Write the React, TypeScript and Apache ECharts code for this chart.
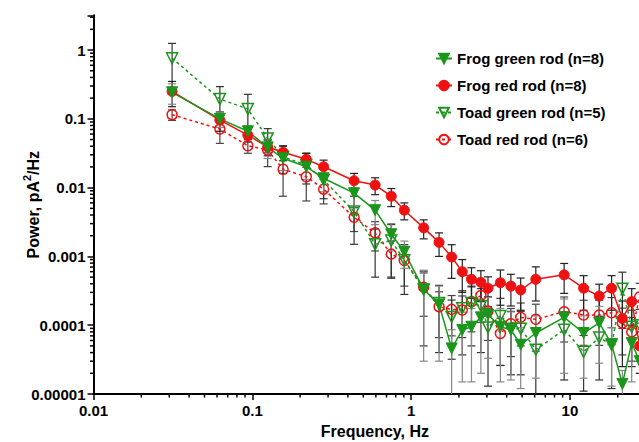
import React, { useEffect, useRef } from "react";
import * as echarts from "echarts";

const freqs = [0.03125, 0.0625, 0.09375, 0.125, 0.15625, 0.21875, 0.28125, 0.4375, 0.59375, 0.75, 0.90625, 1.2, 1.5, 1.8, 2.1, 2.4, 2.75, 3.05, 3.65, 4.25, 4.9, 6.1, 9.2, 12.2, 15.3, 18.3, 21.4, 24.5, 27.5];

const frogGreen = [0.243, 0.1, 0.066, 0.0385, 0.0267, 0.0201, 0.0137, 0.0083, 0.0047, 0.0021, 0.00117, 0.00033, 0.0002, 0.000046, 0.000085, 0.000095, 0.00013, 0.000143, 0.000095, 0.000086, 0.000052, 0.000077, 0.00013, 0.000077, 0.000108, 0.000053, 0.000014, 0.000055, 0.00003];
const frogGreenErr = [0.08, 0.025, 0.012, 0.012, 0.009, 0.007, 0.005, 0.004, 0.0018, 0.0009, 0.0005, 0.0003, 0.00017, 0.00004, 0.00007, 0.00008, 0.00011, 0.00011, 0.00008, 0.00007, 0.00004, 0.00006, 0.00011, 0.00006, 0.00008, 0.00004, 0.000008, 0.00004, 0.00002];

const frogRed = [0.25, 0.096, 0.058, 0.039, 0.0326, 0.0258, 0.0201, 0.0126, 0.0109, 0.0075, 0.0047, 0.0026, 0.0016, 0.00098, 0.0006, 0.000465, 0.00042, 0.000345, 0.000415, 0.00037, 0.000325, 0.000465, 0.00054, 0.000345, 0.000265, 0.000345, 0.000125, 0.00022, 0.00005];
const frogRedErr = [0.1, 0.03, 0.012, 0.01, 0.008, 0.006, 0.005, 0.0035, 0.003, 0.0022, 0.0013, 0.0008, 0.0006, 0.0005, 0.0003, 0.00022, 0.0002, 0.00016, 0.00022, 0.00018, 0.00016, 0.00024, 0.00025, 0.00018, 0.00013, 0.00018, 0.0001, 0.00012, 0.00003];

const toadGreen = [0.76, 0.194, 0.139, 0.052, 0.028, 0.0213, 0.0129, 0.0045, 0.0015, 0.0017, 0.00088, 0.00033, 0.00021, 0.000132, 0.000177, 0.00021, 0.00019, 0.000093, 0.000136, 0.000089, 0.000089, 0.000044, 0.000086, 0.000041, 0.000066, 0.000052, 0.00034, 0.000095, 0.0001];
const toadGreenErr = [0.49, 0.1, 0.088, 0.02, 0.012, 0.01, 0.006, 0.003, 0.001, 0.0012, 0.0006, 0.00028, 0.00017, 0.0001, 0.00014, 0.00016, 0.00015, 0.00008, 0.00011, 0.00007, 0.00007, 0.00004, 0.00007, 0.00003, 0.00005, 0.00004, 0.00025, 0.00007, 0.00007];

const toadRed = [0.115, 0.071, 0.0406, 0.0352, 0.0185, 0.0144, 0.0095, 0.0037, 0.0022, 0.00108, 0.00087, 0.000355, 0.000186, 0.00017, 0.000166, 0.00022, 0.00027, 0.00016, 0.000076, 0.000105, 0.00013, 0.000122, 0.000157, 0.000141, 0.000141, 0.000152, 0.000107, 0.00008, 0.000257];
const toadRedErr = [0.02, 0.027, 0.009, 0.015, 0.011, 0.008, 0.0037, 0.0014, 0.001, 0.0006, 0.0005, 0.00022, 0.00012, 0.0001, 0.0001, 0.00014, 0.00016, 0.0001, 0.00005, 0.00007, 0.00008, 0.00008, 0.0001, 0.00009, 0.00009, 0.0001, 0.00007, 0.00005, 0.00015];

const seriesNames = ["Frog green rod (n=8)", "Frog red rod (n=8)", "Toad green rod (n=5)", "Toad red rod (n=6)"];

const xMin = 0.01;
const xMax = 35;
const yMin = 0.00001;
const yMax = 3.2;

const xMinorTicks = [0.02, 0.03, 0.04, 0.05, 0.06, 0.07, 0.08, 0.09, 0.2, 0.3, 0.4, 0.5, 0.6, 0.7, 0.8, 0.9, 2, 3, 4, 5, 6, 7, 8, 9, 20, 30];
const yMinorTicks = [0.00002, 0.00003, 0.00004, 0.00005, 0.00006, 0.00007, 0.00008, 0.00009, 0.0002, 0.0003, 0.0004, 0.0005, 0.0006, 0.0007, 0.0008, 0.0009, 0.002, 0.003, 0.004, 0.005, 0.006, 0.007, 0.008, 0.009, 0.02, 0.03, 0.04, 0.05, 0.06, 0.07, 0.08, 0.09, 0.2, 0.3, 0.4, 0.5, 0.6, 0.7, 0.8, 0.9, 2, 3];

const GREEN = "#1a961a";
const RED = "#ee1111";
const FONT = "'Liberation Sans', Arial, sans-serif";

function fmtPow(v: number): string {
  const l = Math.log10(v);
  const k = Math.round(l);
  if (Math.abs(l - k) > 1e-6) return "";
  return k >= 0 ? String(Math.pow(10, k)) : "0." + "0".repeat(-k - 1) + "1";
}

function errorSeries(vals: number[], errs: number[], color: string, z: number) {
  const data = freqs.map((f, i) => {
    const lo = vals[i] - errs[i];
    return [f, lo > yMin ? lo : yMin * 0.5, vals[i] + errs[i]];
  });
  return {
    type: "custom",
    silent: true,
    z,
    data,
    encode: { x: 0, y: [1, 2] },
    renderItem: (params: any, api: any) => {
      const x = api.value(0);
      const lo = api.value(1);
      const hi = api.value(2);
      const pHi = api.coord([x, hi]);
      const loClipped = lo < yMin;
      const pLo = api.coord([x, loClipped ? yMin : lo]);
      const style = { stroke: color, lineWidth: 1.2 };
      const children: any[] = [
        { type: "line", shape: { x1: pHi[0], y1: pHi[1], x2: pLo[0], y2: pLo[1] }, style },
        { type: "line", shape: { x1: pHi[0] - 4, y1: pHi[1], x2: pHi[0] + 4, y2: pHi[1] }, style },
      ];
      if (!loClipped) {
        children.push({ type: "line", shape: { x1: pLo[0] - 4, y1: pLo[1], x2: pLo[0] + 4, y2: pLo[1] }, style });
      }
      return { type: "group", children };
    },
  };
}

export default function App() {
  const ref = useRef<HTMLDivElement>(null);
  useEffect(() => {
    const chart = echarts.init(ref.current!, null, { renderer: "svg" });
    const mk = (vals: number[]) => freqs.map((f, i) => [f, vals[i]]);
    const option: any = {
      animation: false,
      backgroundColor: "#fff",
      textStyle: { fontFamily: FONT },
      grid: { left: 93.5, top: 15.3, bottom: 48, right: -17.3, containLabel: false, outerBoundsMode: "none" },
      legend: {
        data: seriesNames,
        orient: "vertical",
        left: 430,
        top: 46,
        itemGap: 12,
        itemWidth: 16,
        itemHeight: 12,
        textStyle: { fontSize: 15, fontWeight: "bold", color: "#000", fontFamily: FONT },
      },
      xAxis: {
        type: "log",
        logBase: 10,
        min: xMin,
        max: xMax,
        name: "Frequency, Hz",
        nameLocation: "middle",
        nameGap: 29,
        nameMoveOverlap: false,
        nameTextStyle: { fontSize: 16, fontWeight: "bold", color: "#000", fontFamily: FONT },
        axisLine: { lineStyle: { color: "#000", width: 2 } },
        axisTick: { inside: false, length: 6, lineStyle: { color: "#000", width: 1.5 } },
        axisLabel: { formatter: fmtPow, margin: 9, fontSize: 15, fontWeight: "bold", color: "#000", fontFamily: FONT },
        splitLine: { show: false },
      },
      yAxis: {
        type: "log",
        logBase: 10,
        min: yMin,
        max: yMax,
        name: "{a|Power, pA}{b|2}{a|/Hz}",
        nameLocation: "middle",
        nameGap: 52,
        nameMoveOverlap: false,
        nameTextStyle: {
          fontSize: 16,
          fontWeight: "bold",
          color: "#000",
          fontFamily: FONT,
          rich: {
            a: { fontSize: 16, fontWeight: "bold", color: "#000", fontFamily: FONT, lineHeight: 20, verticalAlign: "bottom" },
            b: { fontSize: 11, fontWeight: "bold", color: "#000", fontFamily: FONT, lineHeight: 12, verticalAlign: "top" },
          },
        },
        axisLine: { lineStyle: { color: "#000", width: 2 } },
        axisTick: { inside: false, length: 6, lineStyle: { color: "#000", width: 1.5 } },
        axisLabel: { formatter: fmtPow, margin: 8, fontSize: 15, fontWeight: "bold", color: "#000", fontFamily: FONT },
        splitLine: { show: false },
      },
      series: [
        {
          type: "custom",
          silent: true,
          z: 5,
          data: xMinorTicks.map((v) => [v, yMin]),
          renderItem: (params: any, api: any) => {
            const p = api.coord([api.value(0), yMin]);
            return { type: "line", shape: { x1: p[0], y1: p[1], x2: p[0], y2: p[1] + 3.5 }, style: { stroke: "#000", lineWidth: 1.5 } };
          },
        },
        {
          type: "custom",
          silent: true,
          z: 5,
          data: yMinorTicks.map((v) => [xMin, v]),
          renderItem: (params: any, api: any) => {
            const p = api.coord([xMin, api.value(1)]);
            return { type: "line", shape: { x1: p[0], y1: p[1], x2: p[0] - 3.5, y2: p[1] }, style: { stroke: "#000", lineWidth: 1.5 } };
          },
        },
        errorSeries(toadRed, toadRedErr, "#444", 1),
        errorSeries(toadGreen, toadGreenErr, "#333", 1),
        errorSeries(frogRed, frogRedErr, "#222", 1),
        errorSeries(frogGreen, frogGreenErr, "#888", 1),
        {
          name: seriesNames[3],
          type: "line",
          z: 3,
          data: mk(toadRed),
          symbol: "circle",
          symbolSize: 10,
          lineStyle: { color: RED, width: 1.5, type: [3, 3] },
          itemStyle: { color: "rgba(255,255,255,0)", borderColor: RED, borderWidth: 1.5 },
        },
        {
          name: seriesNames[2],
          type: "line",
          z: 3,
          data: mk(toadGreen),
          symbol: "triangle",
          symbolRotate: 180,
          symbolSize: 11,
          lineStyle: { color: GREEN, width: 1.5, type: [3, 3] },
          itemStyle: { color: "rgba(255,255,255,0)", borderColor: GREEN, borderWidth: 1.5 },
        },
        {
          name: seriesNames[1],
          type: "line",
          z: 3,
          data: mk(frogRed),
          symbol: "circle",
          symbolSize: 10,
          lineStyle: { color: RED, width: 1.5 },
          itemStyle: { color: RED, borderColor: RED, borderWidth: 1 },
        },
        {
          name: seriesNames[0],
          type: "line",
          z: 3,
          data: mk(frogGreen),
          symbol: "triangle",
          symbolRotate: 180,
          symbolSize: 11,
          lineStyle: { color: GREEN, width: 1.5 },
          itemStyle: { color: GREEN, borderColor: GREEN, borderWidth: 1 },
        },
      ],
    };
    chart.setOption(option);
    return () => chart.dispose();
  }, []);
  return <div ref={ref} style={{ position: "fixed", left: 0, top: 0, width: 639, height: 442 }} />;
}
